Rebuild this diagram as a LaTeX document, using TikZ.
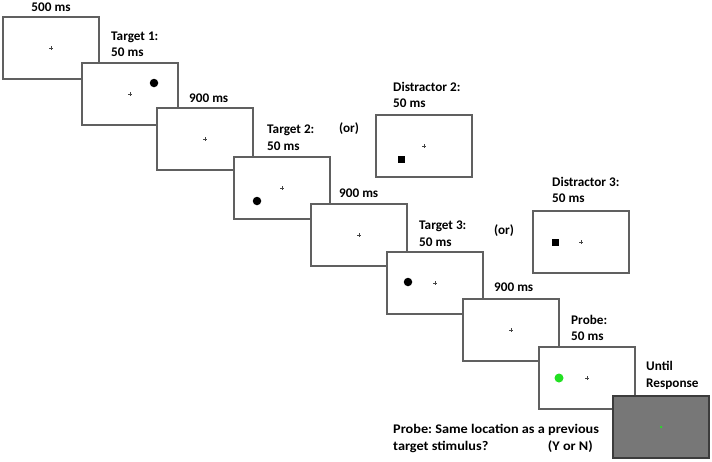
\documentclass[tikz,border=0pt]{standalone}
\usepackage{fontspec}
\setmainfont{Carlito}
\newfontfamily\widefont{Carlito}[FakeStretch=1.08]
\frenchspacing
\begin{document}
\begin{tikzpicture}[x=1pt,y=-1pt,
  frame/.style={draw=framegray,line width=2pt,fill=white,minimum width=96pt,minimum height=62pt,inner sep=0pt,outer sep=0pt},
  grayframe/.style={frame,draw=darkframe,fill=screengray},
  lbl/.style={font=\bfseries\fontsize{13.2}{16.5}\selectfont,align=left,inner sep=0pt,anchor=west},
  widelbl/.style={lbl,font=\widefont\bfseries\fontsize{13.2}{16.5}\selectfont},
  tgt/.style={circle,fill=black,minimum size=8.5pt,inner sep=0pt},
  dst/.style={rectangle,fill=black,minimum size=7pt,inner sep=0pt},
  prb/.style={circle,fill=probegreen,minimum size=9pt,inner sep=0pt},
  fixcross/.pic={\draw[fixgray,line width=1pt] (-2,0)--(2,0) (0,-2)--(0,2);}
]
\definecolor{framegray}{HTML}{606060}
\definecolor{darkframe}{HTML}{3C3C3C}
\definecolor{screengray}{HTML}{777777}
\definecolor{fixgray}{HTML}{444444}
\definecolor{probegreen}{HTML}{22E022}
\useasboundingbox (0,0) rectangle (712,461);

% distractor frames
\node[frame] (d2) at (424,146) {};
\pic at (d2.center) {fixcross};
\node[dst] (sq2) at (401,159) {};
\node[frame] (d3) at (581,242) {};
\pic at (d3.center) {fixcross};
\node[dst] (sq3) at (555,242) {};

% main sequence
\node[frame] (f1) at (51,48) {};
\pic at (f1.center) {fixcross};
\node[frame] (f2) at (130,94) {};
\pic at (f2.center) {fixcross};
\node[tgt] (t1) at (154,83) {};
\node[frame] (f3) at (205,139) {};
\pic at (f3.center) {fixcross};
\node[frame] (f4) at (282,188) {};
\pic at (f4.center) {fixcross};
\node[tgt] (t2) at (257,201) {};
\node[frame] (f5) at (359,235) {};
\pic at (f5.center) {fixcross};
\node[frame] (f6) at (435,283) {};
\pic at (f6.center) {fixcross};
\node[tgt] (t3) at (408,282) {};
\node[frame] (f7) at (511,330) {};
\pic at (f7.center) {fixcross};
\node[frame] (f8) at (587,378) {};
\pic at (f8.center) {fixcross};
\node[prb] (p1) at (559,378) {};
\node[grayframe] (f9) at (661,427) {};
\node[circle,fill=probegreen,minimum size=2.5pt,inner sep=0pt] (p2) at (661,427) {};

% labels
\node[lbl,anchor=center] (l1) at (51,7) {500 ms};
\node[lbl] (l2) at (111,44.5) {Target 1:\\50 ms};
\node[lbl] (l3) at (189,98) {900 ms};
\node[lbl] (l4) at (267,137.5) {Target 2:\\50 ms};
\node[lbl] (l5) at (339,129) {(or)};
\node[lbl] (l6) at (339,193) {900 ms};
\node[lbl] (l7) at (393,95) {Distractor 2:\\50 ms};
\node[lbl] (l8) at (419,233.5) {Target 3:\\50 ms};
\node[lbl] (l9) at (494,231) {(or)};
\node[lbl] (l10) at (552,190) {Distractor 3:\\50 ms};
\node[lbl] (l11) at (494,287) {900 ms};
\node[lbl] (l12) at (571,328) {Probe:\\50 ms};
\node[lbl] (l13) at (646,375.5) {Until\\Response};
\node[widelbl] (l14) at (393,430) {Probe: Same location as a previous};
\node[widelbl] (l15) at (393,447) {target stimulus?};
\node[widelbl,anchor=east] (l16) at (593,447) {(Y or N)};
\end{tikzpicture}
\end{document}
